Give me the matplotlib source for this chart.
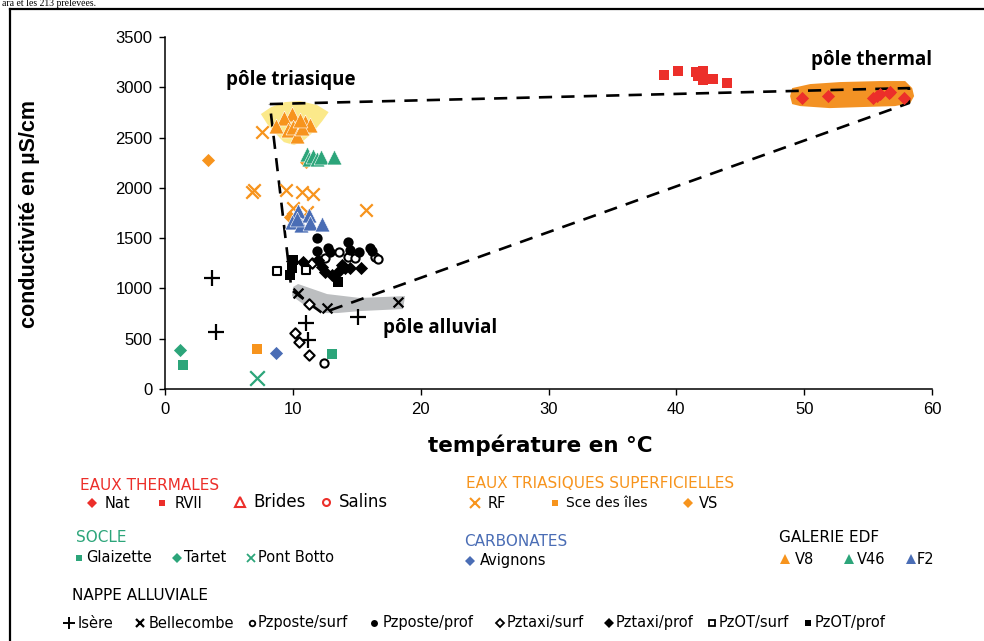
import matplotlib
matplotlib.use("Agg")
import matplotlib.pyplot as plt
from matplotlib.lines import Line2D
from matplotlib.patches import Polygon

# ---------------- data (température °C, conductivité µS/cm) ----------------
nat_t = [49.8, 51.9, 55.4, 55.7, 55.9, 56.6, 56.7, 57.8]
nat_c = [2893, 2912, 2893, 2912, 2932, 2942, 2952, 2896]

rvii_t = [39.0, 40.1, 41.5, 41.7, 42.1, 42.1, 42.9, 44.0]
rvii_c = [3121, 3161, 3151, 3111, 3161, 3071, 3081, 3042]

rf_t = [7.6, 6.8, 7.0, 9.5, 10.7, 11.6, 10.0, 11.1, 15.7]
rf_c = [2555, 1958, 1978, 1978, 1958, 1938, 1799, 1759, 1779]

sce_t = [7.2]
sce_c = [398]

vs_t = [3.4, 11.0, 9.8]
vs_c = [2276, 2256, 1710]

glaizette_t = [1.4, 13.1]
glaizette_c = [239, 348]

tartet_t = [1.2]
tartet_c = [388]

pontbotto_t = [7.2]
pontbotto_c = [109]

avignons_t = [8.7]
avignons_c = [358]

v8_t = [9.94, 9.31, 8.69, 9.62, 10.0, 10.3, 10.95, 11.35, 10.7, 10.56]
v8_c = [2734, 2694, 2614, 2575, 2604, 2515, 2654, 2624, 2594, 2674]

v46_t = [11.1, 11.3, 11.6, 11.9, 12.2, 13.2]
v46_c = [2340, 2290, 2320, 2290, 2310, 2310]

f2_t = [10.4, 9.9, 10.6, 11.3, 11.35, 12.3, 10.3]
f2_c = [1769, 1660, 1630, 1730, 1650, 1640, 1690]

isere_t = [3.7, 4.0, 11.0, 11.2, 15.1]
isere_c = [1103, 567, 656, 487, 716]

bellecombe_t = [10.4, 12.7, 18.2]
bellecombe_c = [954, 805, 865]

pzposte_surf_t = [13.6, 12.5, 14.3, 14.9, 16.4, 16.7, 12.4]
pzposte_surf_c = [1362, 1302, 1312, 1302, 1312, 1292, 258]

pzposte_prof_t = [11.9, 11.9, 12.75, 14.3, 14.5, 16.0, 16.2, 15.2, 12.9]
pzposte_prof_c = [1501, 1372, 1402, 1461, 1382, 1402, 1372, 1362, 1362]

pztaxi_surf_t = [11.5, 11.3, 10.2, 10.5, 11.3]
pztaxi_surf_c = [1252, 845, 557, 467, 338]

pztaxi_prof_t = [9.9, 10.8, 12.0, 12.3, 12.5, 13.1, 13.85, 14.1, 14.5, 15.3, 13.5]
pztaxi_prof_c = [1272, 1262, 1282, 1213, 1163, 1133, 1233, 1203, 1203, 1203, 1163]

pzot_surf_t = [8.8, 11.0]
pzot_surf_c = [1173, 1183]

pzot_prof_t = [10.0, 9.9, 9.8, 13.5]
pzot_prof_c = [1282, 1203, 1133, 1064]

# pole outlines (data coordinates)
triasique_blob = [(7.5, 2734), (8.3, 2803), (9.39, 2853), (10.56, 2863), (11.9, 2823),
                  (12.8, 2753), (12.3, 2664), (11.6, 2555), (10.8, 2465), (10.1, 2425),
                  (9.3, 2455), (8.7, 2535), (8.0, 2634)]
thermal_blob = [(49.06, 2992), (50.47, 3032), (52.82, 3052), (55.95, 3062), (57.9, 3062),
                (58.45, 2992), (58.6, 2912), (58.3, 2843), (57.1, 2813), (54.4, 2803),
                (52.0, 2793), (49.7, 2813), (49.06, 2833), (48.9, 2912)]
alluvial_blob = [(10.02, 1014), (10.41, 1044), (12.68, 944), (15.26, 905), (18.78, 924),
                 (18.62, 795), (15.26, 775), (13.46, 755), (12.36, 755), (10.80, 845),
                 (9.94, 924)]
mixing_t = [8.2, 58.2, 58.2, 12.3, 9.9, 8.2]
mixing_c = [2833, 2992, 2843, 755, 984, 2833]

# ---------------- colours ----------------
RED = "#ec2f2a"
ORANGE = "#f7941d"
GREEN = "#2ca57a"
BLUE = "#4a6db5"

W, H = 984, 641
fig = plt.figure(figsize=(W / 100, H / 100), dpi=100)
ax = fig.add_axes([165 / W, (H - 389) / H, 767 / W, 352 / H])

ax.add_patch(Polygon(triasique_blob, closed=True, facecolor="#fbe98a", edgecolor="none",
                     joinstyle="round", zorder=1))
ax.add_patch(Polygon(thermal_blob, closed=True, facecolor="#f39224", edgecolor="none",
                     joinstyle="round", zorder=1))
ax.add_patch(Polygon(alluvial_blob, closed=True, facecolor="#bcbec0", edgecolor="none",
                     joinstyle="round", zorder=1))
ax.plot(mixing_t, mixing_c, color="black", lw=1.9, dashes=(5, 3.5), zorder=2)

kw = dict(zorder=3)
ax.scatter(rvii_t, rvii_c, marker="s", s=50, color=RED, linewidths=0, **kw)
ax.scatter(nat_t, nat_c, marker="D", s=45, color=RED, linewidths=0, **kw)
ax.scatter(rf_t, rf_c, marker="x", s=80, color=ORANGE, linewidths=1.6, **kw)
ax.scatter(sce_t, sce_c, marker="s", s=55, color=ORANGE, linewidths=0, **kw)
ax.scatter(vs_t, vs_c, marker="D", s=45, color=ORANGE, linewidths=0, **kw)
ax.scatter(glaizette_t, glaizette_c, marker="s", s=55, color=GREEN, linewidths=0, **kw)
ax.scatter(tartet_t, tartet_c, marker="D", s=45, color=GREEN, linewidths=0, **kw)
ax.scatter(pontbotto_t, pontbotto_c, marker="x", s=110, color=GREEN, linewidths=1.6, **kw)
ax.scatter(avignons_t, avignons_c, marker="D", s=45, color=BLUE, linewidths=0, **kw)
ax.scatter(v8_t, v8_c, marker="^", s=115, color=ORANGE, edgecolors="white", linewidths=0.4, **kw)
ax.scatter(v46_t, v46_c, marker="^", s=115, color=GREEN, edgecolors="white", linewidths=0.4, **kw)
ax.scatter(f2_t, f2_c, marker="^", s=115, color=BLUE, edgecolors="white", linewidths=0.4, **kw)
ax.scatter(isere_t, isere_c, marker="+", s=140, color="black", linewidths=1.6, **kw)
ax.scatter(bellecombe_t, bellecombe_c, marker="x", s=50, color="black", linewidths=1.6, **kw)
ax.scatter(pzposte_surf_t, pzposte_surf_c, marker="o", s=35, facecolors="white",
           edgecolors="black", linewidths=1.5, **kw)
ax.scatter(pzposte_prof_t, pzposte_prof_c, marker="o", s=55, color="black", linewidths=0, **kw)
ax.scatter(pztaxi_surf_t, pztaxi_surf_c, marker="D", s=28, facecolors="white",
           edgecolors="black", linewidths=1.5, **kw)
ax.scatter(pztaxi_prof_t, pztaxi_prof_c, marker="D", s=45, color="black", linewidths=0, **kw)
ax.scatter(pzot_surf_t, pzot_surf_c, marker="s", s=35, facecolors="white",
           edgecolors="black", linewidths=1.5, **kw)
ax.scatter(pzot_prof_t, pzot_prof_c, marker="s", s=55, color="black", linewidths=0, **kw)

ax.set_xlim(0, 60)
ax.set_ylim(0, 3500)
ax.set_xticks(range(0, 61, 10))
ax.set_yticks(range(0, 3501, 500))
for sp in ["top", "right"]:
    ax.spines[sp].set_visible(False)
for sp in ["left", "bottom"]:
    ax.spines[sp].set_linewidth(1.1)
ax.tick_params(direction="out", length=4, width=1.0, labelsize=12, pad=5)
for lab in ax.get_xticklabels() + ax.get_yticklabels():
    lab.set_family("Liberation Sans")

ann = dict(fontsize=13.5, fontweight="bold", family="Open Sans", ha="center", va="center")
ax.text(9.86, 3071, "pôle triasique", **ann)
ax.text(55.3, 3270, "pôle thermal", **ann)
ax.text(21.5, 606, "pôle alluvial", **ann)


def P(x, y):
    return x / W, 1 - y / H


fig.text(*P(540, 445), "température en °C", fontsize=15.5, fontweight="bold",
         family="DejaVu Sans", ha="center", va="center")
fig.text(*P(30, 214), "conductivité en µS/cm", fontsize=15.5, fontweight="bold",
         family="Liberation Sans", ha="center", va="center", rotation=90)

# frame and (partly visible) caption line above it
fig.add_artist(Line2D([10 / W, 10 / W], [0, 1 - 9 / H], color="black", lw=1.6))
fig.add_artist(Line2D([10 / W, 1], [1 - 9 / H, 1 - 9 / H], color="black", lw=1.6))
fig.text(*P(2, 4), "ara et les 213 prélevées.", fontsize=7, family="Liberation Serif",
         ha="left", va="center")

# ---------------- manual legend ----------------
LF = "DejaVu Sans"


def head(x, y, s, c):
    fig.text(*P(x, y), s, color=c, fontsize=11, family=LF, ha="left", va="center")


def item(mx, tx, y, s, marker, ms, fc, ec=None, mew=0.0, fs=10.5):
    fig.add_artist(Line2D([mx / W], [1 - y / H], marker=marker, markersize=ms,
                          markerfacecolor=fc, markeredgecolor=ec if ec else fc,
                          markeredgewidth=mew, linestyle="none"))
    fig.text(*P(tx, y), s, fontsize=fs, family=LF, ha="left", va="center")


head(80, 485, "EAUX THERMALES", RED)
item(92, 105, 503, "Nat", "D", 5.5, RED)
item(162, 175, 503, "RVII", "s", 5, RED)
item(240, 253, 502, "Brides", "^", 7, "white", RED, 1.5, fs=12)
item(326, 339, 502, "Salins", "o", 5, "white", RED, 1.5, fs=12)

head(466, 483, "EAUX TRIASIQUES SUPERFICIELLES", ORANGE)
item(475, 488, 503, "RF", "x", 7, ORANGE, ORANGE, 1.5)
item(555, 566, 503, "Sce des îles", "s", 5, ORANGE, fs=10)
item(688, 699, 503, "VS", "D", 5.5, ORANGE)

head(76, 537, "SOCLE", GREEN)
item(79, 86, 558, "Glaizette", "s", 5, GREEN)
item(177, 184, 558, "Tartet", "D", 5.5, GREEN)
item(251, 258, 558, "Pont Botto", "x", 6, GREEN, GREEN, 1.3)

head(464, 541, "CARBONATES", BLUE)
item(470, 480, 561, "Avignons", "D", 5.5, BLUE)

head(779, 538, "GALERIE EDF", "black")
item(785, 795, 559, "V8", "^", 7, ORANGE)
item(849, 857, 559, "V46", "^", 7, GREEN)
item(911, 917, 559, "F2", "^", 7, BLUE)

head(72, 595, "NAPPE ALLUVIALE", "black")
yb = 623
item(69, 78, yb, "Isère", "+", 8, "black", "black", 1.4)
item(140, 149, yb, "Bellecombe", "x", 5.5, "black", "black", 1.6)
item(252, 258, yb, "Pzposte/surf", "o", 4, "white", "black", 1.3)
item(374, 383, yb, "Pzposte/prof", "o", 5, "black")
item(500, 507, yb, "Pztaxi/surf", "D", 4, "white", "black", 1.3)
item(609, 616, yb, "Pztaxi/prof", "D", 5, "black")
item(712, 719, yb, "PzOT/surf", "s", 4.5, "white", "black", 1.3)
item(808, 815, yb, "PzOT/prof", "s", 5, "black")

fig.savefig("out.png", dpi=100, facecolor="white")
